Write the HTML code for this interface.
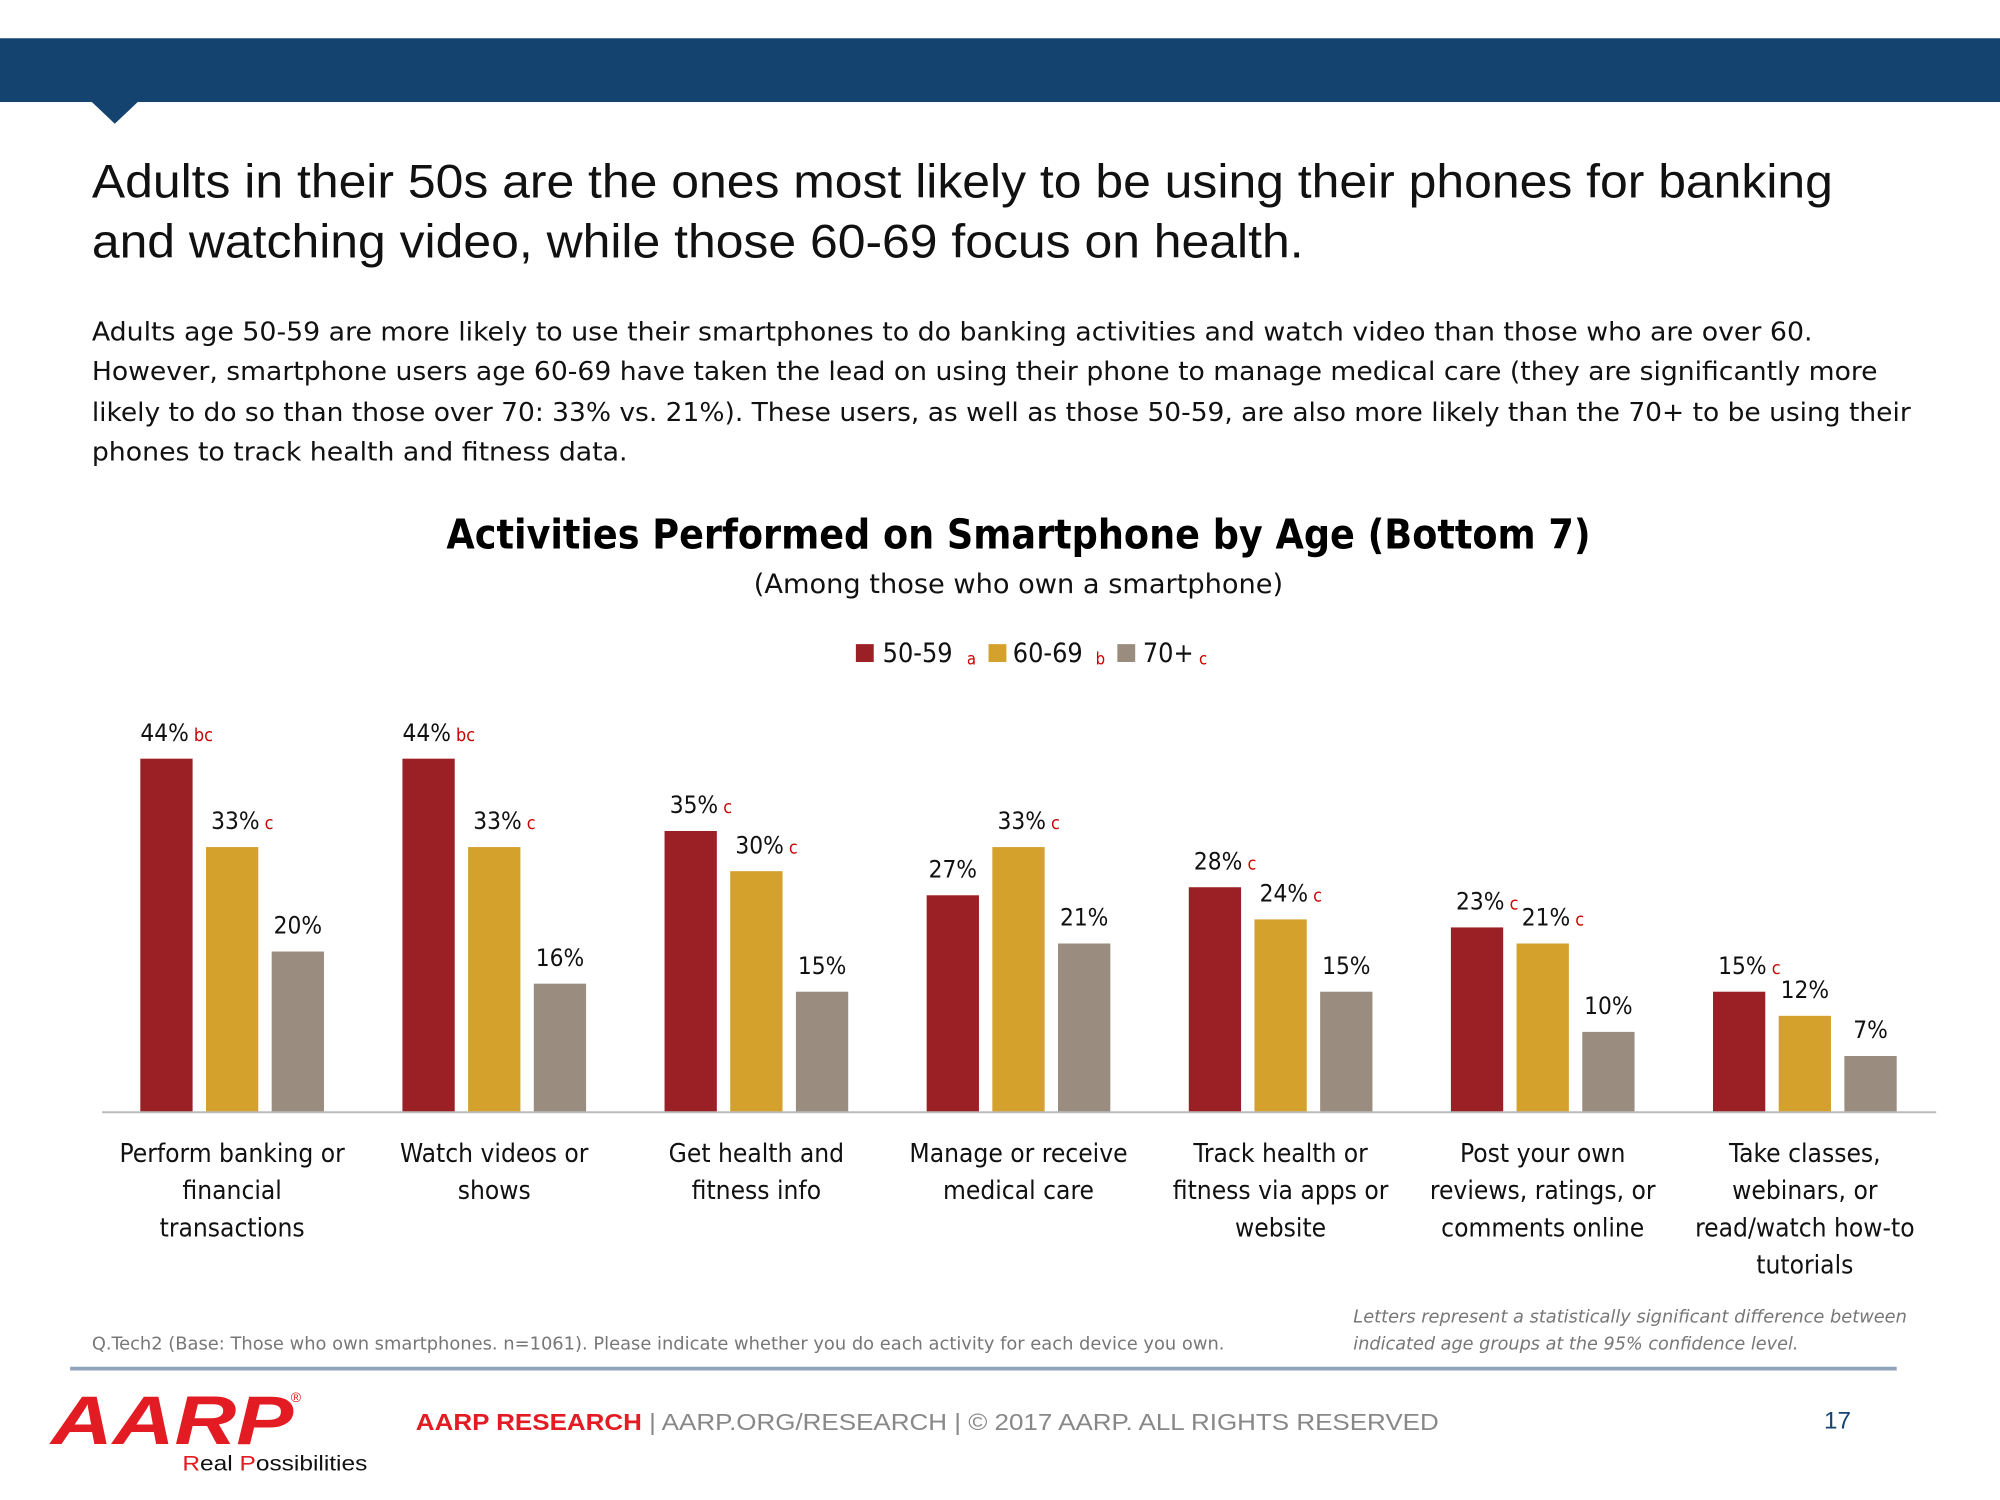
<!DOCTYPE html>
<html><head><meta charset="utf-8"><style>
html,body{margin:0;padding:0;background:#fff;}
svg{display:block;font-family:"Liberation Sans",sans-serif;}
</style></head><body>
<svg id="chart" width="2000" height="1500" viewBox="0 0 1568 1176" xmlns="http://www.w3.org/2000/svg">
<rect x="0" y="30" width="1568" height="50" fill="#154370"/>
<polygon points="72,80 108,80 90,97" fill="#154370"/>
<text font-size="37" fill="#111"><tspan x="72" y="155" textLength="1365" lengthAdjust="spacingAndGlyphs">Adults in their 50s are the ones most likely to be using their phones for banking</tspan><tspan x="72" y="202" textLength="950" lengthAdjust="spacingAndGlyphs">and watching video, while those 60-69 focus on health.</tspan></text>
<text font-size="20.5" fill="#111" font-family="DejaVu Sans Condensed, Liberation Sans, sans-serif"><tspan x="72" y="267" textLength="1349" lengthAdjust="spacingAndGlyphs">Adults age 50-59 are more likely to use their smartphones to do banking activities and watch video than those who are over 60.</tspan><tspan x="72" y="298" textLength="1400" lengthAdjust="spacingAndGlyphs">However, smartphone users age 60-69 have taken the lead on using their phone to manage medical care (they are significantly more</tspan><tspan x="72" y="330" textLength="1426" lengthAdjust="spacingAndGlyphs">likely to do so than those over 70: 33% vs. 21%). These users, as well as those 50-59, are also more likely than the 70+ to be using their</tspan><tspan x="72" y="361" textLength="420" lengthAdjust="spacingAndGlyphs">phones to track health and fitness data.</tspan></text>
<text x="350" y="430" textLength="897" lengthAdjust="spacingAndGlyphs" font-size="32" font-weight="bold" fill="#000" font-family="DejaVu Sans Condensed, Liberation Sans, sans-serif">Activities Performed on Smartphone by Age (Bottom 7)</text>
<text x="591" y="465" textLength="415" lengthAdjust="spacingAndGlyphs" font-size="21" fill="#111" font-family="DejaVu Sans Condensed, Liberation Sans, sans-serif">(Among those who own a smartphone)</text>
<g font-size="21" font-family="DejaVu Sans Condensed, Liberation Sans, sans-serif">
<g><rect x="671" y="505" width="14" height="14" fill="#9B2025"/><text x="692" y="519" fill="#111">50-59</text><text x="758" y="521" font-size="13" fill="#C00">a</text></g>
<g><rect x="775" y="505" width="14" height="14" fill="#D4A12D"/><text x="794" y="519" fill="#111">60-69</text><text x="859" y="521" font-size="13" fill="#C00">b</text></g>
<g><rect x="876" y="505" width="14" height="14" fill="#9A8C7E"/><text x="896" y="519" fill="#111">70+</text><text x="940" y="521" font-size="13" fill="#C00">c</text></g>
</g>
<g id="plot"></g>
<line x1="80" y1="872" x2="1518" y2="872" stroke="#bbb" stroke-width="1.5"/>
<text x="72" y="1058" textLength="888" lengthAdjust="spacingAndGlyphs" font-size="14" fill="#777" font-family="DejaVu Sans Condensed, Liberation Sans, sans-serif">Q.Tech2 (Base: Those who own smartphones. n=1061). Please indicate whether you do each activity for each device you own.</text>
<text font-size="14" fill="#777" font-style="italic" font-family="DejaVu Sans Condensed, Liberation Sans, sans-serif"><tspan x="1061" y="1037" textLength="434" lengthAdjust="spacingAndGlyphs">Letters represent a statistically significant difference between</tspan><tspan x="1061" y="1058" textLength="349" lengthAdjust="spacingAndGlyphs">indicated age groups at the 95% confidence level.</tspan></text>
<line x1="55" y1="1073" x2="1487" y2="1073" stroke="#8FA3BA" stroke-width="3"/>
<text x="40" y="1132" textLength="190" lengthAdjust="spacingAndGlyphs" font-size="54" font-weight="bold" font-style="italic" fill="#E31B23">AARP</text>
<text x="228" y="1099" font-size="11" fill="#E31B23">®</text>
<text x="143" y="1153" textLength="145" lengthAdjust="spacingAndGlyphs" font-size="17" fill="#111"><tspan fill="#E31B23">R</tspan>eal <tspan fill="#E31B23">P</tspan>ossibilities</text>
<text x="326" y="1121" textLength="802" lengthAdjust="spacingAndGlyphs" font-size="18" fill="#888"><tspan fill="#E31B23" font-weight="bold">AARP RESEARCH</tspan>  |  AARP.ORG/RESEARCH  |  © 2017 AARP. ALL RIGHTS RESERVED</text>
<text x="1430" y="1120" font-size="19" fill="#154370">17</text>
</svg>
<script>
const categories = [
  ["Perform banking or","financial","transactions"],
  ["Watch videos or","shows"],
  ["Get health and","fitness info"],
  ["Manage or receive","medical care"],
  ["Track health or","fitness via apps or","website"],
  ["Post your own","reviews, ratings, or","comments online"],
  ["Take classes,","webinars, or","read/watch how-to","tutorials"]
];
const seriesNames = ["50-59","60-69","70+"];
const values5059 = [44,44,35,27,28,23,15];
const values6069 = [33,33,30,33,24,21,12];
const values70 = [20,16,15,21,15,10,7];
const sig5059 = ["bc","bc","c","","c","c","c"];
const sig6069 = ["c","c","c","c","c","c",""];
const sig70 = ["","","","","","",""];

const colors = ["#9B2025","#D4A12D","#9A8C7E"];
const NS="http://www.w3.org/2000/svg";
const plot=document.getElementById('plot');
const baseY=872, pxPer=6.3;
function yScale(v){return baseY - v*pxPer;}
function xGroup(i){return 110 + i*205.5;}
const series=[values5059,values6069,values70];
const sigs=[sig5059,sig6069,sig70];
const font='DejaVu Sans Condensed, Liberation Sans, sans-serif';
function mk(tag,attrs){const e=document.createElementNS(NS,tag);for(const k in attrs)e.setAttribute(k,attrs[k]);return e;}
categories.forEach((cat,i)=>{
  const gx=xGroup(i);
  series.forEach((vals,s)=>{
    const x=gx+s*51.5, w=41, v=vals[i];
    const r=mk('rect',{x:x,y:yScale(v),width:w,height:baseY-yScale(v),fill:colors[s]});
    
    
    plot.appendChild(r);
    const t=mk('text',{x:x+w/2,y:yScale(v)-14,'text-anchor':'middle','font-size':19,fill:'#111','font-family':font});
    t.textContent=v+'%';
    
    
    if(sigs[s][i]){
      const sp=mk('tspan',{fill:'#C00','font-size':14,dx:4});
      sp.textContent=sigs[s][i];
      t.appendChild(sp);
      t.setAttribute('x',x+w/2+8);
    }
    plot.appendChild(t);
  });
  const cx=gx+72;
  const lab=mk('text',{'text-anchor':'middle','font-size':20.5,fill:'#111','font-family':font});
  
  
  cat.forEach((line,j)=>{const sp=mk('tspan',{x:cx,y:911+j*29.2});sp.textContent=line;lab.appendChild(sp);});
  plot.appendChild(lab);
});
</script>
</body></html>
